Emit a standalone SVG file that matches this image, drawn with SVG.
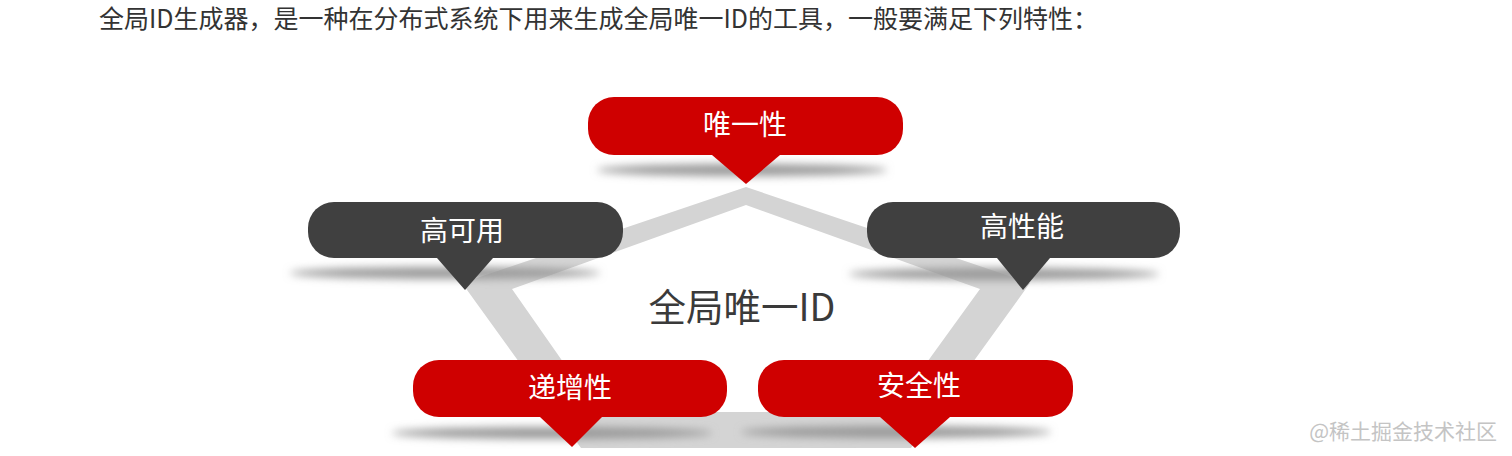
<svg xmlns="http://www.w3.org/2000/svg" width="1512" height="456" viewBox="0 0 1512 456">
<defs>
<filter id="blur" x="-20%" y="-200%" width="140%" height="500%"><feGaussianBlur stdDeviation="4.5"/></filter>
<style>
text{font-family:"Noto Sans CJK SC","Noto Sans",sans-serif}
.hdr{font-size:25px;fill:#333}
.lbl{font-size:28px;fill:#fff;text-anchor:middle}
.red{fill:#cf0000}
.dark{fill:#404040}
.sh{fill:#9a9a9a;filter:url(#blur)}
.ring{fill:#d4d4d4;fill-rule:evenodd}
.center{font-size:37.5px;fill:#3a3a3a;text-anchor:middle}
.wm{font-size:21px;fill:#c4c4c4;text-anchor:end}
</style>
</defs>
<rect width="1512" height="456" fill="#fff"/>
<text class="hdr" x="99" y="28">全局ID生成器，是一种在分布式系统下用来生成全局唯一ID的工具，一般要满足下列特性：</text>

<g id="connectors">
<path class="ring" d="M746,187 L1030,283 L911,448 L581,448 L462,283 Z M746,205 L512,289 L598,412 L891,412 L980,289 Z"/>
</g>

<g id="shadows">
<ellipse class="sh" cx="742" cy="170" rx="145" ry="6"/>
<ellipse class="sh" cx="445" cy="273" rx="155" ry="6"/>
<ellipse class="sh" cx="1004" cy="274" rx="155" ry="6"/>
<ellipse class="sh" cx="552" cy="433" rx="160" ry="6"/>
<ellipse class="sh" cx="896" cy="432" rx="155" ry="6"/>
</g>

<g id="node-unique">
<rect class="red" x="588" y="97" width="315" height="58" rx="26"/>
<polygon class="red" points="712,150 780,150 780,155 746,184 712,155"/>
<text class="lbl" x="745" y="135">唯一性</text>
</g>

<g id="node-ha">
<rect class="dark" x="308" y="202" width="315" height="56" rx="26"/>
<polygon class="dark" points="437,250 493,250 493,258 465,290 437,258"/>
<text class="lbl" x="462" y="241">高可用</text>
</g>

<g id="node-hp">
<rect class="dark" x="867" y="202" width="313" height="56" rx="26"/>
<polygon class="dark" points="997,250 1050,250 1050,258 1023,290 997,258"/>
<text class="lbl" x="1022" y="237">高性能</text>
</g>

<g id="node-inc">
<rect class="red" x="413" y="360" width="314" height="57" rx="26"/>
<polygon class="red" points="540,410 602,410 602,417 572,447 540,417"/>
<text class="lbl" x="570" y="398">递增性</text>
</g>

<g id="node-sec">
<rect class="red" x="758" y="360" width="315" height="57" rx="26"/>
<polygon class="red" points="880,410 950,410 950,417 915,448 880,417"/>
<text class="lbl" x="919" y="396">安全性</text>
</g>

<g id="node-center">
<text class="center" x="742" y="321">全局唯一ID</text>
</g>

<text class="wm" x="1497" y="439">@稀土掘金技术社区</text>
</svg>
